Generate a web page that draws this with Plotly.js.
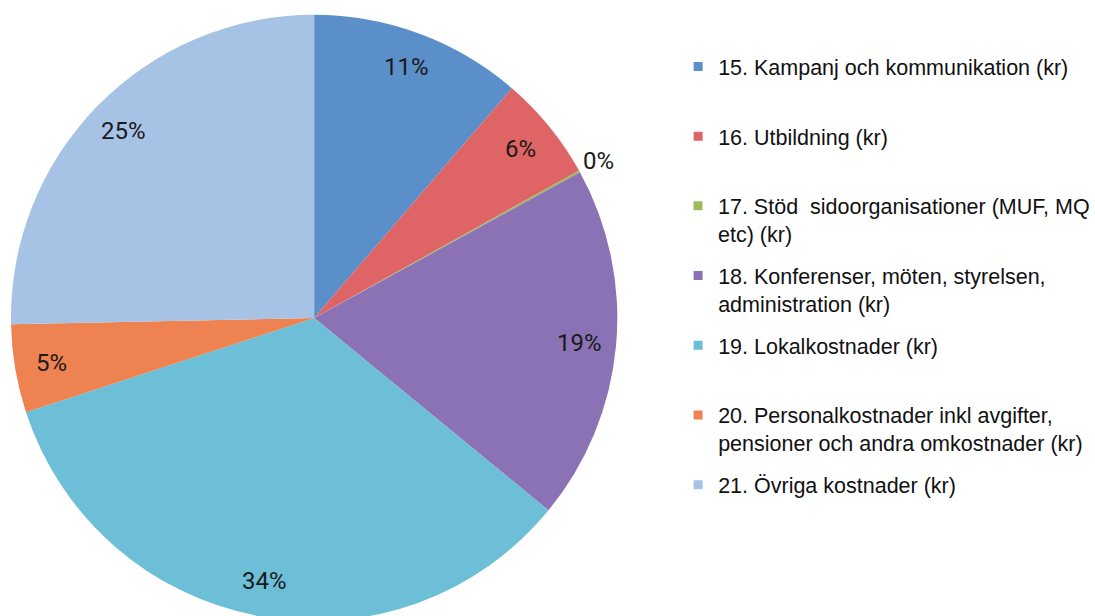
<!DOCTYPE html>
<html>
<head>
<meta charset="utf-8">
<script src="https://cdn.plot.ly/plotly-3.0.1.min.js"></script>
<style>
html,body{margin:0;padding:0;overflow:hidden;background:#fff;}
#chart{width:1095px;height:636px;}
</style>
</head>
<body>
<div id="chart"></div>
<script>
// ---- data ----
const categories = [
  "15. Kampanj och kommunikation (kr)",
  "16. Utbildning (kr)",
  "17. Stöd  sidoorganisationer (MUF, MQ etc) (kr)",
  "18. Konferenser, möten, styrelsen, administration (kr)",
  "19. Lokalkostnader (kr)",
  "20. Personalkostnader inkl avgifter, pensioner och andra omkostnader (kr)",
  "21. Övriga kostnader (kr)"
];
const legendLabels = [
  "15. Kampanj och kommunikation (kr)",
  "16. Utbildning (kr)",
  "17. Stöd\u00a0 sidoorganisationer (MUF, MQ<br>etc) (kr)",
  "18. Konferenser, möten, styrelsen,<br>administration (kr)",
  "19. Lokalkostnader (kr)",
  "20. Personalkostnader inkl avgifter,<br>pensioner och andra omkostnader (kr)",
  "21. Övriga kostnader (kr)"
];
const shares = [11.3, 5.6, 0.1, 18.9, 34.0, 4.7, 25.3];
const colors = ["#5a8fca", "#de6466", "#9bbb59", "#8b72b5", "#6cbfd6", "#ee8250", "#a6c3e6"];

// ---- layout geometry ----
const W = 1095, H = 636;
const pieDomX = [11 / W, 619 / W];
const pieDomY = [1 - 622 / H, 1 - 14 / H];
const legendLeft = 0.621;
const legendTopPx = 46, legendStepPx = 69.7;

const cx = (pieDomX[0] + pieDomX[1]) / 2 * W;
const cy = (1 - (pieDomY[0] + pieDomY[1]) / 2) * H;
const R = Math.min((pieDomX[1] - pieDomX[0]) * W, (pieDomY[1] - pieDomY[0]) * H) / 2;

const total = shares.reduce((a, b) => a + b, 0);
const annotations = [];
let cum = 0;
shares.forEach((v, i) => {
  const frac = v / total;
  const mid = (cum + frac / 2) * 2 * Math.PI;
  cum += frac;
  const rf = frac < 0.01 ? 1.07 : 0.88;
  const xp = cx + rf * R * Math.sin(mid);
  const yp = cy - rf * R * Math.cos(mid);
  annotations.push({
    x: xp / W, y: 1 - yp / H, xref: 'paper', yref: 'paper',
    text: Math.round(frac * 100) + '%', showarrow: false,
    xanchor: 'center', yanchor: 'middle',
    font: {family: 'Roboto, sans-serif', size: 24, color: '#1a1a1a'}
  });
});

const traces = [{
  type: 'pie',
  labels: categories,
  values: shares,
  sort: false,
  direction: 'clockwise',
  rotation: 0,
  marker: {colors: colors, line: {width: 0}},
  textinfo: 'none',
  hoverinfo: 'label+percent',
  showlegend: false,
  domain: {x: pieDomX, y: pieDomY}
}];

const layout = {
  width: W, height: H,
  margin: {l: 0, r: 0, t: 0, b: 0},
  paper_bgcolor: '#ffffff',
  plot_bgcolor: 'rgba(0,0,0,0)',
  xaxis: {visible: false},
  yaxis: {visible: false},
  annotations: annotations,
  showlegend: true
};

categories.forEach((c, i) => {
  const key = i === 0 ? 'legend' : 'legend' + (i + 1);
  traces.push({
    type: 'scatter', mode: 'markers',
    x: [null], y: [null],
    name: legendLabels[i],
    marker: {symbol: 'square', size: 9, color: colors[i]},
    legend: key,
    hoverinfo: 'skip'
  });
  layout[key] = {
    x: legendLeft, xanchor: 'left',
    y: 1 - (legendTopPx + i * legendStepPx) / H, yanchor: 'top',
    font: {family: 'Liberation Sans, Arial, sans-serif', size: 21.5, color: '#111'},
    bgcolor: 'rgba(0,0,0,0)',
    valign: 'top'
  };
});

Plotly.newPlot('chart', traces, layout, {displayModeBar: false, staticPlot: true});
</script>
</body>
</html>
